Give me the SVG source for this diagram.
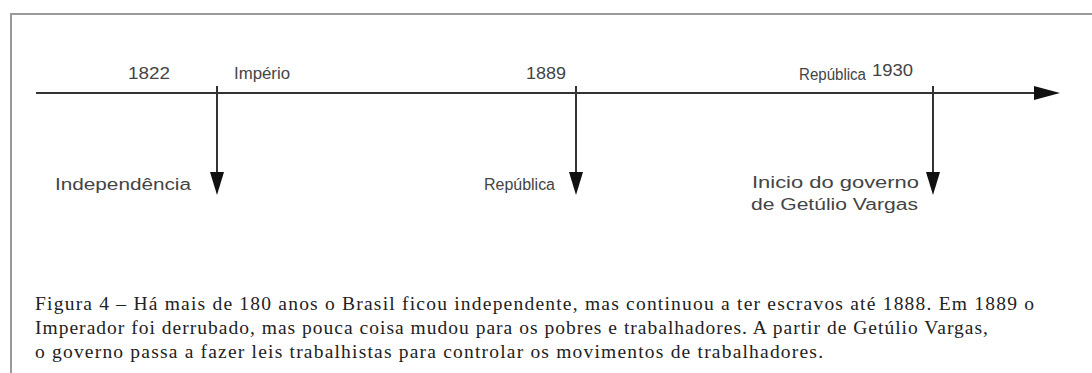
<svg xmlns="http://www.w3.org/2000/svg" width="1092" height="373" viewBox="0 0 1092 373">
<defs>
<style>
.frame{fill:none;stroke:#999;stroke-width:2}
.axis{stroke:#333;stroke-width:2;fill:none}
.head{fill:#111}
.lbl{font-family:"Liberation Sans",Arial,sans-serif;font-size:16px;fill:#444}
.cap{font-family:"Liberation Serif","Times New Roman",serif;font-size:19.5px;fill:#222}
</style>
</defs>
<rect width="1092" height="373" fill="#fff"/>
<path class="frame" d="M11,373 V14 H1092"/>
<g id="connectors">
<line class="axis" x1="36" y1="93" x2="1036" y2="93"/>
<polygon class="head" points="1034,86 1060,93 1034,100"/>
<line class="axis" x1="217" y1="86" x2="217" y2="174"/>
<polygon class="head" points="210,172 224,172 217,195"/>
<line class="axis" x1="576" y1="86" x2="576" y2="174"/>
<polygon class="head" points="569,172 583,172 576,195"/>
<line class="axis" x1="933" y1="86" x2="933" y2="174"/>
<polygon class="head" points="926,172 940,172 933,195"/>
</g>
<g id="y1822"><text class="lbl" x="128" y="79" textLength="42" lengthAdjust="spacingAndGlyphs">1822</text></g>
<g id="imperio"><text class="lbl" x="234" y="79" textLength="56" lengthAdjust="spacingAndGlyphs">Império</text></g>
<g id="y1889"><text class="lbl" x="526" y="79" textLength="40" lengthAdjust="spacingAndGlyphs">1889</text></g>
<g id="republica-top"><text class="lbl" x="799" y="80" textLength="67" lengthAdjust="spacingAndGlyphs">República</text></g>
<g id="y1930"><text class="lbl" x="872" y="76" textLength="41" lengthAdjust="spacingAndGlyphs">1930</text></g>
<g id="independencia"><text class="lbl" x="55" y="190" textLength="136" lengthAdjust="spacingAndGlyphs">Independência</text></g>
<g id="republica"><text class="lbl" x="484" y="190" textLength="71" lengthAdjust="spacingAndGlyphs">República</text></g>
<g id="getulio">
<text class="lbl" x="752" y="188" textLength="167" lengthAdjust="spacingAndGlyphs">Inicio do governo</text>
<text class="lbl" x="751" y="210" textLength="167" lengthAdjust="spacingAndGlyphs">de Getúlio Vargas</text>
</g>
<g id="caption">
<text class="cap" x="35" y="310" textLength="999" lengthAdjust="spacing">Figura 4 – Há mais de 180 anos o Brasil ficou independente, mas continuou a ter escravos até 1888. Em 1889 o</text>
<text class="cap" x="35" y="334" textLength="953" lengthAdjust="spacing">Imperador foi derrubado, mas pouca coisa mudou para os pobres e trabalhadores. A partir de Getúlio Vargas,</text>
<text class="cap" x="35" y="358" textLength="788" lengthAdjust="spacing">o governo passa a fazer leis trabalhistas para controlar os movimentos de trabalhadores.</text>
</g>
</svg>
